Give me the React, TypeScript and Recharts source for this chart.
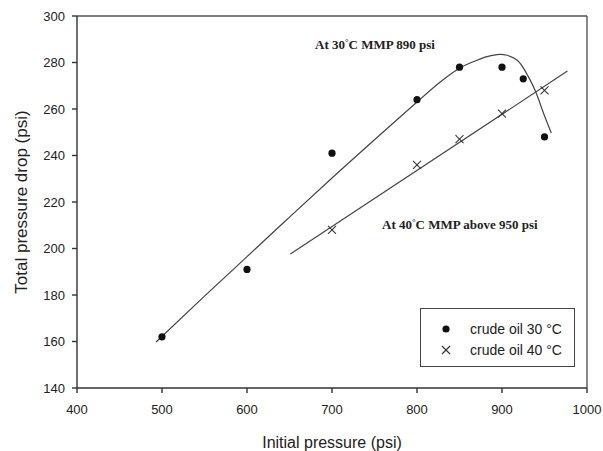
import React from 'react';
import { ComposedChart, Line, Scatter, XAxis, YAxis, ReferenceLine, Legend } from 'recharts';

// measured points, initial pressure (psi) vs total pressure drop (psi)
const press30 = [500, 600, 700, 800, 850, 900, 925, 950];
const drop30 = [162, 191, 241, 264, 278, 278, 273, 248];
const press40 = [700, 800, 850, 900, 950];
const drop40 = [208, 236, 247, 258, 268];

// trend curves
const trend30X = [493, 550, 600, 650, 700, 750, 800, 827, 850, 866, 880, 894, 906, 918, 927, 939, 948, 958];
const trend30Y = [159.8, 179.5, 196.5, 213.5, 230.3, 246.8, 263, 271.5, 277.5, 280.3, 282.3, 283.4, 283.1, 281, 276.5, 268, 259, 249.7];
const trend40X = [651, 977];
const trend40Y = [197.6, 276.3];

const xTicks = [400, 500, 600, 700, 800, 900, 1000];
const yTicks = [140, 160, 180, 200, 220, 240, 260, 280, 300];

const toPoints = (xs: number[], ys: number[]) => xs.map((x, i) => ({ x, y: ys[i] }));

const oil30 = toPoints(press30, drop30);
const oil40 = toPoints(press40, drop40);
const fit30 = toPoints(trend30X, trend30Y);
const fit40 = toPoints(trend40X, trend40Y);

const sans = '"Liberation Sans", Arial, sans-serif';
const serif = '"Liberation Serif", "Times New Roman", serif';
const ink = '#222';

const DotShape = (props: any) => <circle cx={props.cx} cy={props.cy} r={3.6} fill="#111" />;

const CrossShape = (props: any) => {
  const { cx, cy } = props;
  const s = 4;
  return (
    <g stroke="#333" strokeWidth={1.1}>
      <line x1={cx - s} y1={cy - s} x2={cx + s} y2={cy + s} />
      <line x1={cx - s} y1={cy + s} x2={cx + s} y2={cy - s} />
    </g>
  );
};

const renderLegend = () => (
  <div
    style={{
      width: 155,
      height: 59,
      border: '1.5px solid #444',
      background: '#fff',
      boxSizing: 'border-box',
    }}
  >
    <svg width={152} height={56} style={{ display: 'block' }}>
      <circle cx={25} cy={20} r={3.6} fill="#111" />
      <text x={49} y={25} fontFamily={sans} fontSize={14} fill={ink}>crude oil 30 °C</text>
      <g stroke="#333" strokeWidth={1.1}>
        <line x1={21} y1={37} x2={29} y2={45} />
        <line x1={21} y1={45} x2={29} y2={37} />
      </g>
      <text x={49} y={46} fontFamily={sans} fontSize={14} fill={ink}>crude oil 40 °C</text>
    </svg>
  </div>
);

export default function App() {
  return (
    <div style={{ position: 'absolute', left: 0, top: 0, width: 603, height: 451, background: '#fff' }}>
      <ComposedChart width={603} height={451} margin={{ top: 16, right: 16, bottom: 0, left: 0 }}>
        <XAxis
          type="number"
          dataKey="x"
          domain={[400, 1000]}
          ticks={xTicks}
          allowDataOverflow
          height={63}
          tickSize={5}
          tickMargin={12}
          stroke="#333"
          strokeWidth={1.4}
          tick={{ fill: ink, fontSize: 13, fontFamily: sans }}
        />
        <YAxis
          type="number"
          dataKey="y"
          domain={[140, 300]}
          ticks={yTicks}
          allowDataOverflow
          width={77}
          tickSize={5}
          tickMargin={7}
          stroke="#333"
          strokeWidth={1.4}
          tick={{ fill: ink, fontSize: 13, fontFamily: sans }}
        />
        <ReferenceLine y={300} stroke="#555" strokeWidth={1.4} />
        <ReferenceLine x={1000} stroke="#555" strokeWidth={1.4} />
        <Line
          data={fit30}
          dataKey="y"
          type="natural"
          stroke="#444"
          strokeWidth={1.2}
          dot={false}
          isAnimationActive={false}
          legendType="none"
        />
        <Line
          data={fit40}
          dataKey="y"
          type="linear"
          stroke="#444"
          strokeWidth={1.2}
          dot={false}
          isAnimationActive={false}
          legendType="none"
        />
        <Scatter name="crude oil 30 °C" data={oil30} dataKey="y" shape={DotShape} isAnimationActive={false} />
        <Scatter name="crude oil 40 °C" data={oil40} dataKey="y" shape={CrossShape} isAnimationActive={false} />
        <Legend
          verticalAlign="middle"
          align="center"
          content={renderLegend}
          wrapperStyle={{ position: 'absolute', left: 420, top: 308, width: 155, height: 59 }}
        />
      </ComposedChart>
      <svg width={603} height={451} style={{ position: 'absolute', left: 0, top: 0, pointerEvents: 'none' }}>
        <text x={21} y={202} transform="rotate(-90 21 202)" textAnchor="middle" dominantBaseline="central" fontFamily={sans} fontSize={17} fill={ink}>
          Total pressure drop (psi)
        </text>
        <text x={332} y={442} textAnchor="middle" dominantBaseline="central" fontFamily={sans} fontSize={16} fill={ink}>
          Initial pressure (psi)
        </text>
        <text x={315} y={49} fontFamily={serif} fontWeight="bold" fontSize={13} fill={ink}>
          At 30<tspan fontSize={9} dy={-4}>°</tspan><tspan dy={4}>C MMP 890 psi</tspan>
        </text>
        <text x={382} y={229} fontFamily={serif} fontWeight="bold" fontSize={13} fill={ink}>
          At 40<tspan fontSize={9} dy={-4}>°</tspan><tspan dy={4}>C MMP above 950 psi</tspan>
        </text>
      </svg>
    </div>
  );
}
